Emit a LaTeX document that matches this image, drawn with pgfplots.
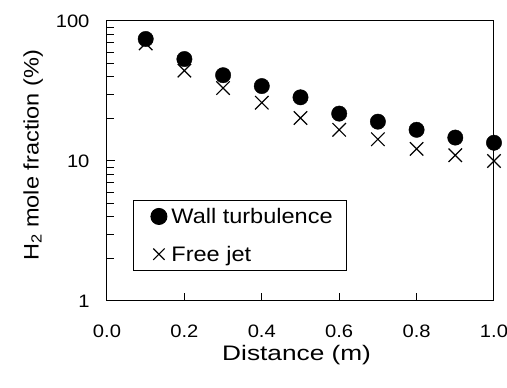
\documentclass[border=0pt]{standalone}
\usepackage{pgfplots}
\pgfplotsset{compat=1.18}
\usepackage{fontspec}
\setmainfont{Liberation Sans}[FakeStretch=1.12]
\newfontfamily\widefont{Liberation Sans}[FakeStretch=1.25]
\begin{document}
\begin{tikzpicture}
\useasboundingbox (-107pt,-87pt) rectangle (400pt,301pt);
\begin{axis}[
  at={(0pt,0pt)}, anchor=south west,
  scale only axis,
  width=387pt, height=280pt,
  ymode=log,
  xmin=0, xmax=1, ymin=1, ymax=100,
  xtick={0,0.2,0.4,0.6,0.8,1.0},
  xticklabels={0.0,0.2,0.4,0.6,0.8,1.0},
  ytick={1,10,100},
  yticklabels={1,10,100},
  xtick pos=bottom, ytick pos=left,
  tick align=inside,
  major tick length=8pt, minor tick length=7pt,
  /pgf/number format/assume math mode=true,
  tick label style={font=\fontsize{18}{22}\selectfont},
  xticklabel style={yshift=-20pt},
  yticklabel style={xshift=-14pt},
  xlabel={Distance (m)},
  ylabel={H\textsubscript{2} mole fraction (\%)},
  xlabel style={font=\widefont\fontsize{21}{25}\selectfont, at={(axis description cs:0.49,-0.146)}, anchor=north},
  ylabel style={font=\fontsize{21}{25}\selectfont, at={(axis description cs:-0.1566,0.52)}, anchor=south},
  axis line style={line width=1pt},
  every tick/.style={black, line width=1pt},
  legend style={at={(0.067,0.107)}, anchor=south west, font=\fontsize{21}{25}\selectfont,
    draw=black, line width=1pt, inner xsep=12pt, inner ysep=6pt, row sep=17pt},
  legend image code/.code={%
    \path[draw=none, fill=none] (0pt,0pt) rectangle (24pt,0.1pt);
    \path[#1, mark size=8pt, draw=none, fill=none] plot[only marks] coordinates {(13.5pt,0pt)};},
  legend cell align=left,
]
\addplot[only marks, mark=*, mark size=7.7pt, black] coordinates {
(0.1,74.4) (0.2,53.5) (0.3,41.0) (0.4,34.3) (0.5,28.5)
(0.6,21.8) (0.7,19.1) (0.8,16.7) (0.9,14.7) (1.0,13.5)};
\addlegendentry{Wall turbulence}
\addplot[only marks, mark=x, mark size=9.5pt, black, mark options={line width=1.2pt}] coordinates {
(0.1,69.2) (0.2,44.2) (0.3,33.2) (0.4,26.1) (0.5,20.3)
(0.6,16.7) (0.7,14.3) (0.8,12.2) (0.9,11.0) (1.0,10.0)};
\addlegendentry{Free jet}
\end{axis}
\end{tikzpicture}
\end{document}
